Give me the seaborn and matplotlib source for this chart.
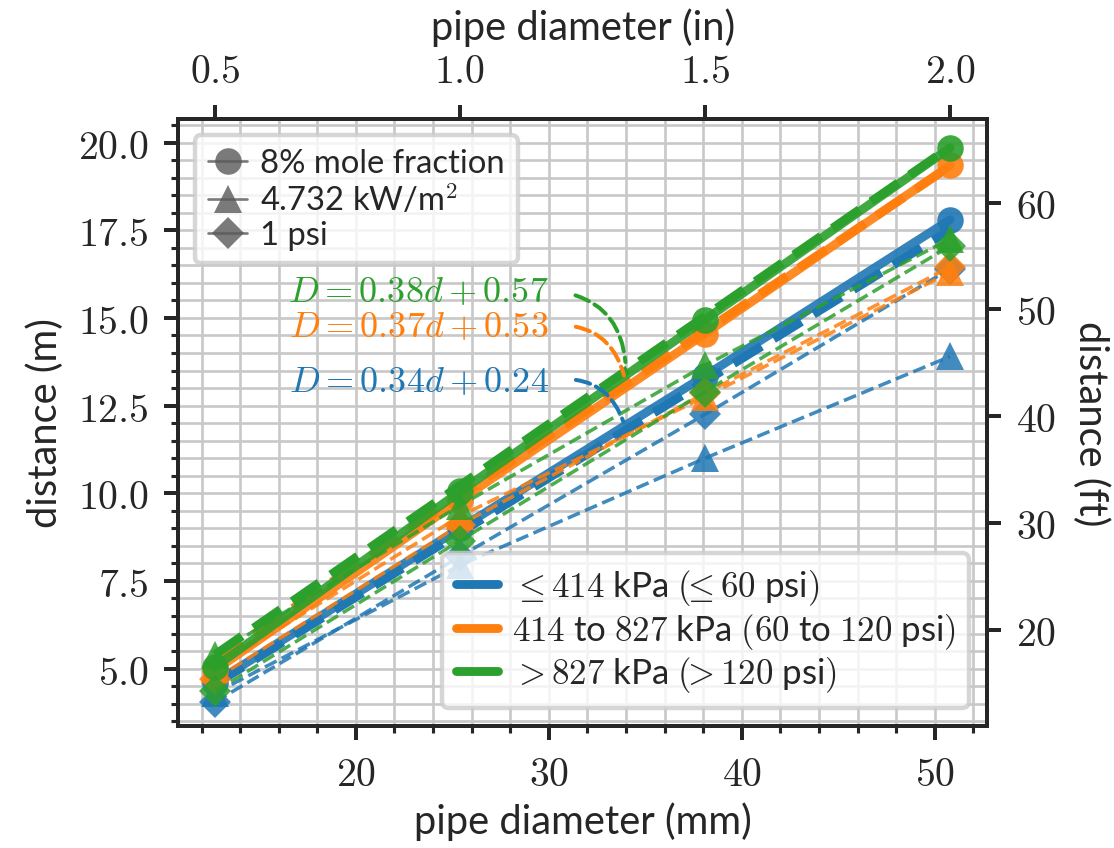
import numpy as np
import pandas as pd
import matplotlib
matplotlib.use("Agg")
import matplotlib.pyplot as plt
from matplotlib.lines import Line2D
from matplotlib.ticker import MultipleLocator, FixedLocator, FuncFormatter
import seaborn as sns

# ---------- data ----------
diam_mm = [12.7, 25.4, 38.1, 50.8]
classes = ["low", "mid", "high"]
class_labels = [
    r"$\leq 414$ kPa $(\!\!\leq 60$ psi$)$",
    r"$414$ to $827$ kPa $(60$ to $120$ psi$)$",
    r"$> 827$ kPa $(\!\!> 120$ psi$)$",
]
colors = ["#1f77b4", "#ff7f0e", "#2ca02c"]

# 8% mole fraction (circles)
mole_low = [4.6, 9.0, 13.35, 17.8]
mole_mid = [4.95, 9.8, 14.55, 19.35]
mole_high = [5.05, 10.05, 14.95, 19.85]
# 4.732 kW/m2 (triangles)
heat_low = [4.3, 7.95, 11.0, 13.9]
heat_mid = [5.0, 9.35, 12.75, 16.3]
heat_high = [5.4, 9.65, 13.65, 17.25]
# 1 psi (diamonds)
psi_low = [4.05, 8.2, 12.25, 16.4]
psi_mid = [4.7, 9.1, 12.85, 16.45]
psi_high = [4.35, 8.65, 12.9, 17.05]

# linear fits D = a*d + b
fit_a = [0.34, 0.37, 0.38]
fit_b = [0.24, 0.53, 0.57]
fit_text_y = [13.21, 14.78, 15.78]

in_ticks = [0.5, 1.0, 1.5, 2.0]
ft_ticks = [20, 30, 40, 50, 60]

# ---------- setup ----------
sns.set_theme(style="ticks")
plt.rcParams["font.family"] = ["Lato", "DejaVu Sans"]
plt.rcParams["mathtext.fontset"] = "cm"
plt.rcParams["axes.linewidth"] = 0.9
plt.rcParams["xtick.major.width"] = 0.9
plt.rcParams["ytick.major.width"] = 0.9
plt.rcParams["xtick.minor.width"] = 0.7
plt.rcParams["ytick.minor.width"] = 0.7
plt.rcParams["xtick.major.size"] = 3.2
plt.rcParams["ytick.major.size"] = 3.2
plt.rcParams["xtick.minor.size"] = 1.6
plt.rcParams["ytick.minor.size"] = 1.6

mole = {"low": mole_low, "mid": mole_mid, "high": mole_high}
heat = {"low": heat_low, "mid": heat_mid, "high": heat_high}
psi = {"low": psi_low, "mid": psi_mid, "high": psi_high}

fig = plt.figure(figsize=(3.5, 2.665), dpi=318.57)
ax = fig.add_axes([0.16, 0.144, 0.725, 0.715])

for i, cls in enumerate(classes):
    c = colors[i]
    df_h = pd.DataFrame({"d": diam_mm, "D": heat[cls]})
    df_p = pd.DataFrame({"d": diam_mm, "D": psi[cls]})
    df_m = pd.DataFrame({"d": diam_mm, "D": mole[cls]})
    d_fit = np.array([diam_mm[0], diam_mm[-1]])
    ax.plot(d_fit, fit_a[i] * d_fit + fit_b[i], color=c, lw=2.0, linestyle="--")
    sns.lineplot(data=df_h, x="d", y="D", ax=ax, color=c, marker="^", markersize=6.2,
                 markeredgewidth=0, linestyle="--", lw=0.8, alpha=0.85)
    sns.lineplot(data=df_p, x="d", y="D", ax=ax, color=c, marker="D", markersize=5.2,
                 markeredgewidth=0, linestyle="--", lw=0.8, alpha=0.85)
    sns.lineplot(data=df_m, x="d", y="D", ax=ax, color=c, marker="o", markersize=6,
                 markeredgewidth=0, linestyle="-", lw=2.0, alpha=0.9)

    ax.annotate(rf"$D = {fit_a[i]:.2f}d + {fit_b[i]:.2f}$",
                xy=(34.0, fit_a[i] * 34.0 + fit_b[i]),
                xytext=(30.0, fit_text_y[i]), ha="right", va="center",
                color=c, fontsize=8.2,
                arrowprops=dict(arrowstyle="-", linestyle="--", color=c, lw=0.9,
                                relpos=(1.0, 0.5), shrinkA=4, shrinkB=2,
                                connectionstyle="arc3,rad=-0.45"))

ax.set_xlim(10.8, 52.7)
ax.set_ylim(3.37, 20.68)
ax.xaxis.set_major_locator(MultipleLocator(10))
ax.xaxis.set_minor_locator(MultipleLocator(2))
ax.yaxis.set_major_locator(MultipleLocator(2.5))
ax.yaxis.set_minor_locator(MultipleLocator(0.5))
ax.xaxis.set_major_formatter(FuncFormatter(lambda v, p: f"${v:.0f}$"))
ax.yaxis.set_major_formatter(FuncFormatter(lambda v, p: f"${v:.1f}$"))
ax.tick_params(which="both", direction="out", labelsize=9, top=False, right=False)
ax.grid(which="both", color="#c8c8c8", lw=0.6)
ax.set_axisbelow(True)
ax.set_xlabel("pipe diameter (mm)", fontsize=9, labelpad=2)
ax.set_ylabel("distance (m)", fontsize=9, labelpad=3)

# secondary axes
top = ax.secondary_xaxis("top", functions=(lambda x: x / 25.4, lambda x: x * 25.4))
top.xaxis.set_major_locator(FixedLocator(in_ticks))
top.xaxis.set_major_formatter(FuncFormatter(lambda v, p: f"${v:.1f}$"))
top.tick_params(labelsize=9, direction="out")
top.set_xlabel("pipe diameter (in)", fontsize=9, labelpad=3)

right = ax.secondary_yaxis("right", functions=(lambda y: y / 0.3048, lambda y: y * 0.3048))
right.yaxis.set_major_locator(FixedLocator(ft_ticks))
right.yaxis.set_major_formatter(FuncFormatter(lambda v, p: f"${v:.0f}$"))
right.tick_params(labelsize=9, direction="out")
right.set_ylabel("distance (ft)", fontsize=9, rotation=270, labelpad=12)

# legends
marker_handles = [
    Line2D([], [], color="0.35", marker="o", markersize=6, markeredgewidth=0, lw=0.6, alpha=0.8),
    Line2D([], [], color="0.35", marker="^", markersize=6.2, markeredgewidth=0, lw=0.6, alpha=0.8),
    Line2D([], [], color="0.35", marker="D", markersize=5.2, markeredgewidth=0, lw=0.6, alpha=0.8),
]
leg1 = ax.legend(marker_handles, ["8% mole fraction", r"4.732 kW/m$^2$", "1 psi"],
                 loc="upper left", fontsize=7.4, frameon=True, fancybox=True,
                 framealpha=0.8, handlelength=1.2, handletextpad=0.4,
                 borderpad=0.4, labelspacing=0.12)
ax.add_artist(leg1)

line_handles = [Line2D([], [], color=c, lw=2.0) for c in colors]
ax.legend(line_handles, class_labels, loc="lower right", fontsize=7.9, frameon=True,
          fancybox=True, framealpha=0.8, handlelength=1.2, handletextpad=0.4,
          borderpad=0.4, labelspacing=0.1)

fig.savefig("out.png", dpi=318.57)
